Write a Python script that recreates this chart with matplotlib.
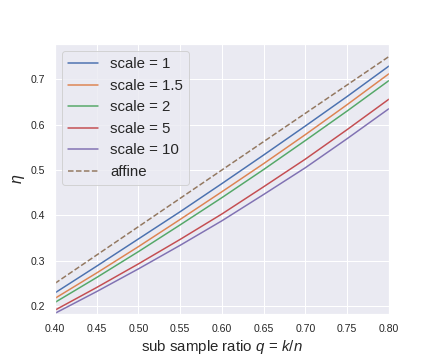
import matplotlib
matplotlib.use("Agg")
import matplotlib.pyplot as plt
import seaborn as sns

sns.set_theme(style="darkgrid")
plt.rcParams['font.family'] = ['Liberation Sans', 'DejaVu Sans']
plt.rcParams['mathtext.fontset'] = 'custom'
plt.rcParams['mathtext.it'] = 'Liberation Sans:italic'
plt.rcParams['mathtext.rm'] = 'Liberation Sans'

q = [0.40, 0.45, 0.50, 0.55, 0.60, 0.65, 0.70, 0.75, 0.80]
eta_scale_1 = [0.229, 0.288, 0.348, 0.408, 0.470, 0.533, 0.597, 0.662, 0.729]
eta_scale_1_5 = [0.217, 0.273, 0.331, 0.391, 0.452, 0.514, 0.578, 0.644, 0.712]
eta_scale_2 = [0.208, 0.263, 0.320, 0.379, 0.439, 0.501, 0.565, 0.630, 0.697]
eta_scale_5 = [0.191, 0.241, 0.293, 0.347, 0.403, 0.463, 0.524, 0.589, 0.656]
eta_scale_10 = [0.184, 0.232, 0.282, 0.334, 0.388, 0.446, 0.505, 0.569, 0.635]
eta_affine = [0.25, 0.3125, 0.375, 0.4375, 0.50, 0.5625, 0.625, 0.6875, 0.75]

labels = ["scale = 1", "scale = 1.5", "scale = 2", "scale = 5", "scale = 10"]
series = [eta_scale_1, eta_scale_1_5, eta_scale_2, eta_scale_5, eta_scale_10]
colors = sns.color_palette("deep")

fig = plt.figure(figsize=(6, 5), dpi=72)
ax = fig.add_axes([0.127, 0.127, 0.773, 0.751])
for i, (lab, s) in enumerate(zip(labels, series)):
    ax.plot(q, s, color=colors[i], lw=1.5, label=lab)
ax.plot(q, eta_affine, color=colors[5], lw=1.5, ls='--', label='affine')

ax.set_xlim(0.40, 0.80)
ax.set_ylim(0.182, 0.778)
ax.set_xticks([0.40, 0.45, 0.50, 0.55, 0.60, 0.65, 0.70, 0.75, 0.80])
ax.set_yticks([0.2, 0.3, 0.4, 0.5, 0.6, 0.7])
ax.tick_params(labelsize=10.5)
ax.set_xlabel(r"sub sample ratio $q\,=\,k/n$", fontsize=15)
ax.set_ylabel(r"$\eta$", fontsize=16)
ax.legend(loc='upper left', fontsize=15)

fig.savefig("out.png", dpi=72)
